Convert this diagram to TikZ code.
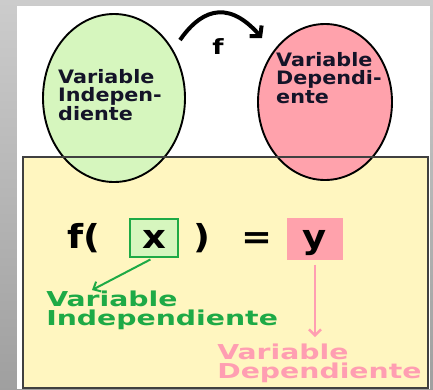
\documentclass[tikz,border=0pt]{standalone}
\usepackage{fontspec}
\setmainfont{DejaVu Sans}
\usetikzlibrary{shapes,arrows.meta,positioning}

\definecolor{IndFill}{RGB}{214,246,190}
\definecolor{DepFill}{RGB}{255,162,172}
\definecolor{BoxFill}{RGB}{255,246,192}
\definecolor{IndGreen}{RGB}{30,170,70}
\definecolor{DepPink}{RGB}{255,158,178}
\definecolor{TextDark}{RGB}{20,20,40}

\begin{document}
\begin{tikzpicture}[x=1pt,y=-1pt]
			\tikzstyle{Oval}	= [ellipse, draw, line width=1.9pt, inner sep=0pt]
			\tikzstyle{Inner}	= [font=\bfseries\fontsize{18.5}{18.5}\selectfont, text=TextDark, align=left, anchor=north west, inner sep=0pt, xscale=1.12]
			\tikzstyle{Big}		= [font=\bfseries\fontsize{33}{34}\selectfont, anchor=base, inner sep=0pt, xscale=1.12]
			\tikzstyle{Tag}		= [font=\bfseries\fontsize{20.5}{18.5}\selectfont, align=left, anchor=north west, inner sep=0pt, xscale=1.38]
			\tikzstyle{Box}		= [draw, line width=1.2pt, inner sep=0pt]
			
			% background
			\useasboundingbox (0,0) rectangle (433,389);
			\shade [top color=gray!40, bottom color=gray!75] (0,0) rectangle (433,389);
			\fill [white] (17,6) rectangle (430,389);
			\fill [BoxFill] (23,157) rectangle (428,388);
			
			% the two sets
			\node (indep) at (114,98) [Oval, fill=IndFill, minimum width=142pt, minimum height=168pt] {};
			\node (dep) at (325,102) [Oval, fill=DepFill, minimum width=134pt, minimum height=156pt] {};
			\node (indeptext) at (58,69) [Inner] {Variable\\Indepen-\\diente};
			\node (deptext) at (276,52) [Inner] {Variable\\Dependi-\\ente};
			
			\draw [line width=1.6pt, black!75] (23,157) rectangle (428,388);
			
			% f between the sets
			\coordinate (fstart) at (180,40);
			\coordinate (fend) at (262,38);
			\draw [line width=4pt, -{Straight Barb[length=7pt,width=16pt]}] (fstart) .. controls (198,14) and (225,-4) .. (fend);
			\node (f) at (218,54) [Big, font=\bfseries\fontsize{21}{22}\selectfont, xscale=1.1] {f};
			
			% f( x ) = y
			\node (fopen) at (84,248) [Big] {f(};
			\node (xbox) at (154,238) [Box, draw=IndGreen, fill=IndFill, minimum width=48pt, minimum height=38pt] {};
			\node (xvar) at (154,248) [Big] {x};
			\node (fclose) at (202,248) [Big] {)};
			\node (eq) at (257,248) [Big] {=};
			\node (ybox) at (315,239) [Box, draw=DepFill, fill=DepFill, minimum width=54pt, minimum height=40pt] {};
			\node (yvar) at (315,248) [Big] {y};
			
			% labels under the formula
			\node (indlabel) at (46,291) [Tag, text=IndGreen] {Variable\\Independiente};
			\node (deplabel) at (217,344) [Tag, text=DepPink] {Variable\\Dependiente};
			\coordinate (indtip) at (92,290);
			\coordinate (deptip) at (315,337);
			
			\draw [-{Straight Barb[length=6pt,width=11pt]}, line width=2pt, IndGreen, shorten <=4pt] (xbox.south) to (indtip);
			\draw [-{Straight Barb[length=6pt,width=12pt]}, line width=2.4pt, DepPink, shorten <=5pt] (ybox.south) to (deptip);
		\end{tikzpicture}
\end{document}
